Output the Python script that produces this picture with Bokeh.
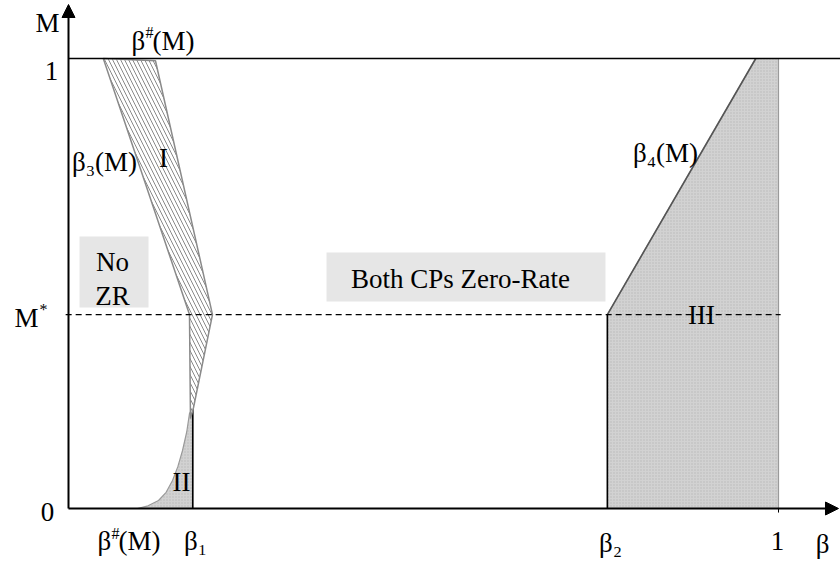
from bokeh.plotting import figure
from bokeh.models import Range1d, Arrow, NormalHead
from bokeh.core.properties import value
from bokeh.embed import file_html
from bokeh.resources import INLINE

# ---- schematic values (beta on x, M on y) ----
beta1 = 0.175
beta2 = 0.759
beta_hash0 = 0.097
M_star = 0.431
beta4_top = 0.968

# Region I (hatched): between beta3(M) and beta#(M)
region1_beta = [0.049, 0.1225, 0.2028, 0.1761, 0.1718, 0.1704]
region1_M = [1.0, 0.995, 0.431, 0.2244, 0.20, 0.431]

# Region II (dotted): under curve from beta#(0) to beta1
region2_curve_beta = [0.097, 0.112, 0.1268, 0.1375, 0.1465, 0.154, 0.1606, 0.1665, 0.1704, 0.175]
region2_curve_M = [0.0, 0.006, 0.0178, 0.036, 0.0622, 0.093, 0.1289, 0.17, 0.2111, 0.2244]

# Region III (dotted): right of beta2 / beta4(M)
region3_beta = [beta2, beta4_top, 1.0, 1.0, beta2]
region3_M = [M_star, 1.0, 1.0, 0.0, 0.0]

FONT = value("Liberation Serif")
FS = "27px"

p = figure(width=840, height=563, output_backend="svg", toolbar_location=None,
           x_range=Range1d(-68 / 710, 772 / 710), y_range=Range1d(-55 / 450, 508 / 450),
           min_border=0, min_border_left=0, min_border_right=0,
           min_border_top=0, min_border_bottom=0)
p.axis.visible = False
p.grid.visible = False
p.outline_line_color = None
p.background_fill_color = "white"

# label boxes
p.quad(left=[0.0155, 0.3634], right=[0.1127, 0.7563], bottom=[0.4467, 0.46], top=[0.6044, 0.5689],
       fill_color="#e6e6e6", line_color=None)

# Region III
p.patch(region3_beta, region3_M, fill_color="#d2d2d2", line_color="#9a9a9a", line_width=1.2,
        hatch_pattern="dot", hatch_color="#b8b8b8", hatch_scale=3, hatch_weight=1)
p.line([beta2, beta4_top], [M_star, 1.0], line_color="#555555", line_width=1.6)
p.line([beta2, beta2], [0, M_star], line_color="black", line_width=1.6)

# Region II
r2x = region2_curve_beta + [beta1]
r2y = region2_curve_M + [0.0]
p.patch(r2x, r2y, fill_color="#d2d2d2", line_color="#9a9a9a", line_width=1.2,
        hatch_pattern="dot", hatch_color="#b8b8b8", hatch_scale=3, hatch_weight=1)
p.line([beta1, beta1], [0, region2_curve_M[-1]], line_color="black", line_width=1.6)

# Region I
p.patch(region1_beta, region1_M, fill_color="white", line_color="#8a8a8a", line_width=1.5,
        hatch_pattern="left_diagonal_line", hatch_color="#8a8a8a", hatch_scale=8, hatch_weight=1)

# lines
p.line([0, 1.0873], [1.0, 1.0], line_color="black", line_width=1.3)
p.line([-0.004, 1.003], [M_star, M_star], line_color="black", line_width=1.2, line_dash="6 4")
p.line([1.0, 1.0], [0, -0.009], line_color="black", line_width=1)

# axes with arrows
p.add_layout(Arrow(end=NormalHead(size=13, fill_color="black", line_color="black"),
                   x_start=0, y_start=0, x_end=0, y_end=1.12, line_width=2))
p.add_layout(Arrow(end=NormalHead(size=13, fill_color="black", line_color="black"),
                   x_start=0, y_start=0, x_end=1.0845, y_end=0, line_width=2))

# text labels
lab_x = [-0.0296, -0.024, -0.0592, -0.0296, 0.0507, 0.1338, 0.062, 0.062, 0.5521, 0.8408, 0.8915, 0.1592,
         0.1789, 0.7634, 0.9986, 1.062]
lab_y = [1.08, 0.973, 0.4244, -0.0067, 0.7689, 0.78, 0.5467, 0.4733, 0.5089, 0.7889, 0.4289, 0.06,
         -0.0733, -0.0756, -0.0733, -0.0778]
lab_t = ["M", "1", "M", "0", "β₃(M)", "I", "No", "ZR", "Both CPs Zero-Rate", "β₄(M)", "III", "II",
         "β₁", "β₂", "1", "β"]
p.text(lab_x, lab_y, text=lab_t, text_font=FONT, text_font_size=FS, text_color="black",
       text_align="center", text_baseline="middle")

# superscript pieces
p.text([0.0887, 0.1183, 0.0408, 0.0704], [1.04, 1.04, -0.0733, -0.0733],
       text=["β", "(M)", "β", "(M)"], text_font=FONT, text_font_size=FS,
       text_align="left", text_baseline="middle")
p.text([0.1085, 0.0606, -0.0408], [1.058, -0.055, 0.442],
       text=["#", "#", "*"], text_font=FONT, text_font_size="16px",
       text_align="left", text_baseline="middle")

open("out.html", "w").write(file_html(p, INLINE))
